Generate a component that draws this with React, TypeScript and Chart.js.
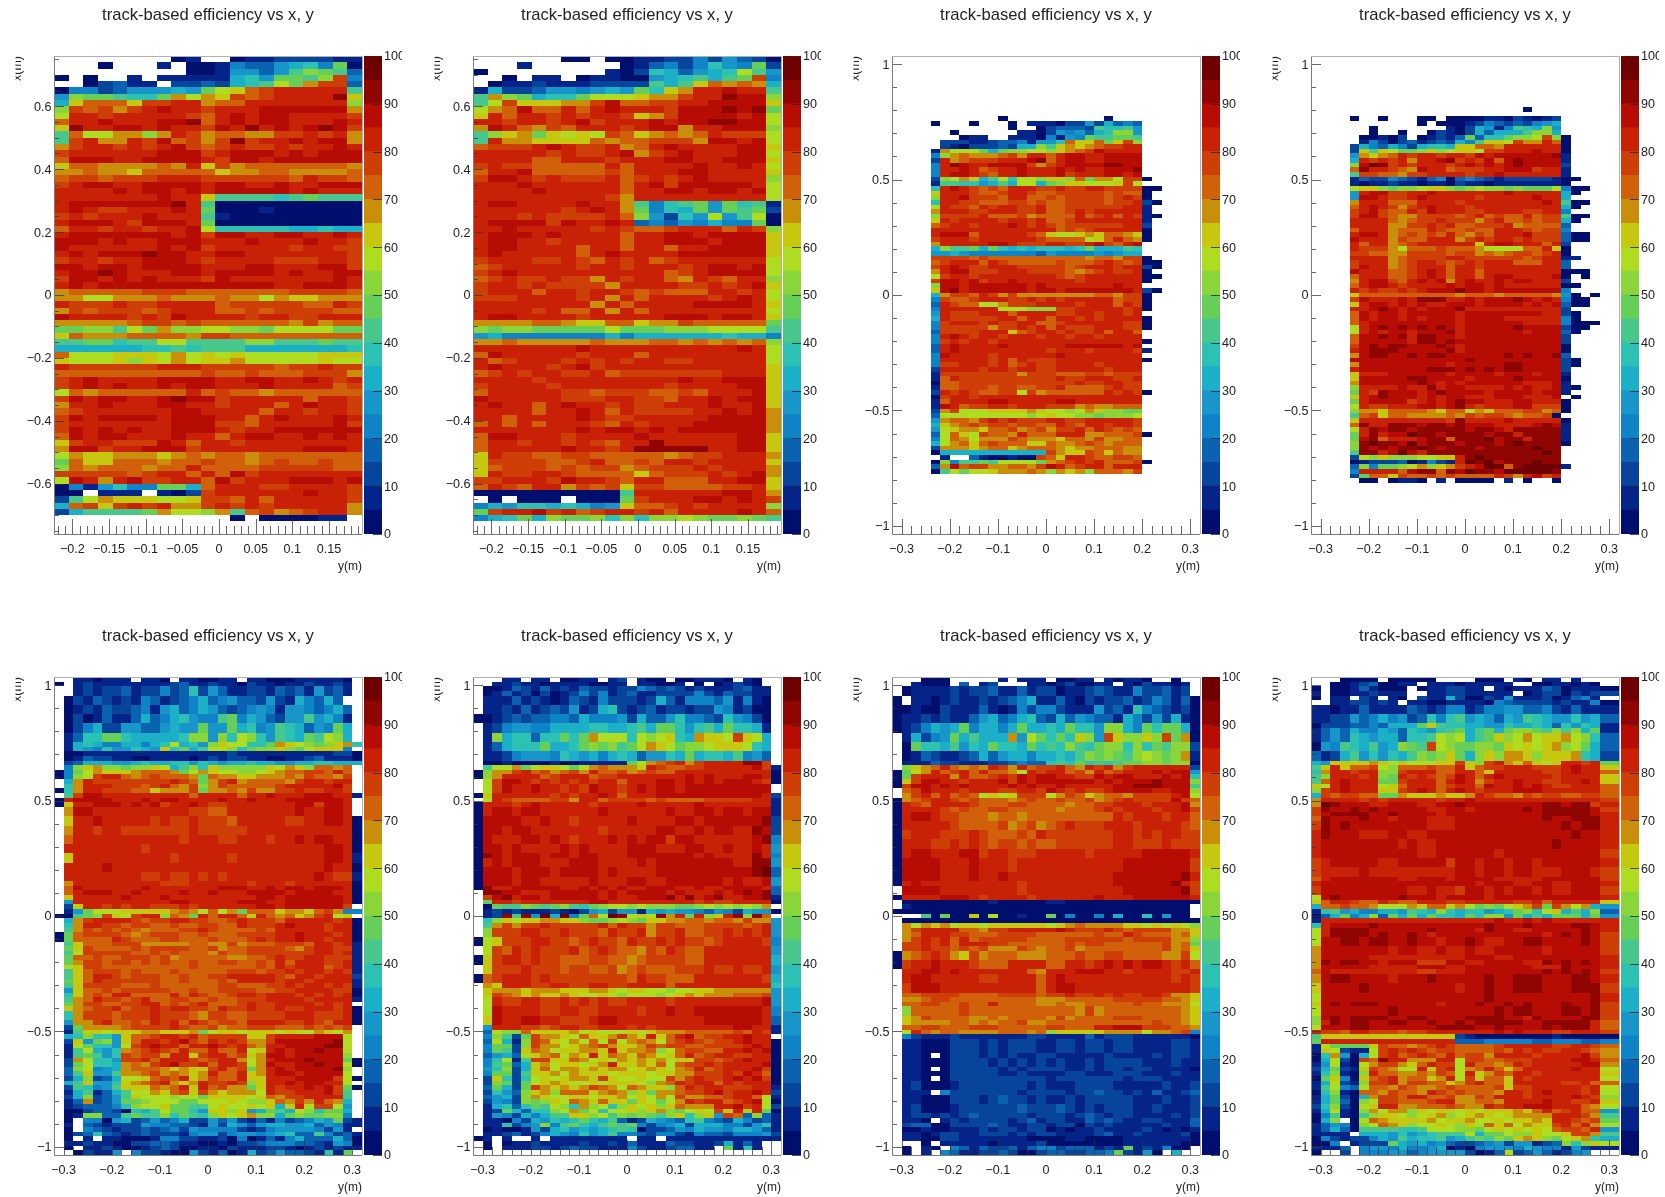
import React, { useEffect, useRef } from "react";
import { Chart, registerables } from "chart.js";

Chart.register(...registerables);

const FONT = "'Liberation Sans', Arial, sans-serif";
const TITLE = "track-based efficiency vs x, y";

// palette: one colour per 5% band, from 0-5 up to 95-100
const paletteColours = [
  "#000e6e", "#04248a", "#06459b", "#0b62b0", "#0e84c6", "#1896c9", "#1cb0c8", "#2dc1b3", "#47c78c", "#65cf58",
  "#8ad63a", "#aedc20", "#c6c80f", "#c98f0b", "#d06009", "#cd3f07", "#c92106", "#b70c03", "#8f0502", "#6e0000",
];
const paletteSteps = paletteColours.map(() => 5);
const paletteTicks = [0, 10, 20, 30, 40, 50, 60, 70, 80, 90, 100];

const narrowYTicks = [-0.6, -0.4, -0.2, 0, 0.2, 0.4, 0.6];
const narrowXTicks = [-0.2, -0.15, -0.1, -0.05, 0, 0.05, 0.1, 0.15];
const wideYTicks = [-1, -0.5, 0, 0.5, 1];
const wideXTicks = [-0.3, -0.2, -0.1, 0, 0.1, 0.2, 0.3];

// each string is one row of bins, top row first. a=0-5% b=5-10% ... t=95-100%, "." = empty bin. "n:" repeats a row.
const panel1Rows = [
  "........ab..abbccccbb", "...a...b.aabeddfgheja", ".........aabffdfikjid", "a.a..b.bbbbbghfjjikpe", "..acdbb.ccdcghiljnppd",
  "aeecdfffgfjlmopqqqqqi", "fkjjihhjnlnmpopqqqqsm", "gmooomppqqnooqqqqqqqk", "kpopnpqrqqpqqqrrrrrrn", "lqqpqqqqqpoqrqrrqqqqp",
  "oqqrqqqrrsoqrqrrqqqrq", "msqqrrqrqqprqsqrqrsrp", "iollnnknqpnoonnppqpqn", "ipqnnqpropnpspqqrqrrn", "npqqpqpqrpopqppqpqqrq",
  "pqqqqqqrrrpqrrrqrqrrr", "orrrqqrrrrqprrqrrrrrr", "moonnnnonqmpnooooooon", "nnonnmooooomnnoonnnno", "oppopppqqqppppppoqppo",
  "pqrrqqrrrrqrrqqrqqrrr", "qqqqrqrrqrqrrrrrqrqqq", "qqqqqqqrqqmiiiihijiii", "qrrrrrrrsqiaaaaaaaaaa", "qrqppqqqrqjaaabaaaaaa",
  "pqpqqqrqqqibaaaaaaaaa", "qrrrqprrrqjaaaaaaaaaa", "oqqpqqpqqrlhhhhhgghgg", "qrrrrrrrqrprrqqrrqqrq", "rrrqrqqrrrqqqrqqqrqqp",
  "rqqqqqqrqrpqqqqqpqqpp", "qrqrrrsrrqqrrqqqqqqqp", "pqqpqqrrrqpqqqqpppqqp", "rrqrrqrrrrqqqrrqqqrrp", "qrrsrqqqrrqrrrrqrqqrr",
  "prrqrqrqqqprqqqqqqqrq", "qrqrrrrrrrrrrrrqqrrrq", "nooooopppoooooooppppo",
  "nnllnnnonnnonnlnmmnnn", "qpppqppqqqqopppppooqp", "npopppopqqqoopoppppoo", "rqqqqpqprqqqqpqqppqqq", "nnnnnoppopoooooonpnoo",
  "jjkkiljnkkllkkjlllljj", "monnnoooonppooooooooo", "iijjhiilliiiikkiiijii", "gggggghhihiiigggggggh", "olllmmmlnlmlmlllllmmm",
  "mlllmkmlnlmmnlllllmll", "qppppppqqqpppppoppqpp", "oooooooooopoopooopppn", "pqrqqqqrrrrqqrrqqrqpq", "pqrqrqqrqrrqqqrqqqqop",
  "lonooooooqopoonoooooo", "prqrrqqrsrrpqqqqqoqqp", "nqqrqqqrrqqpqqqoqrqqp", "opqqqqqqrrqqqqoqqpqqp", "prqrrrrqrrrqqoqrqqqrq",
  "pqqqqqqqrrrppoqqqqqrp", "prqrqrqqrrrqpqqrrrrrr", "orqrrqqqrqqoqrrqqrqrq", "mpqqppprqoqqpqqqqqqqq", "nrrpqqrrrpqqqqqqqrrrq",
  "lnmmnnnmnonoonooooooo", "jommooonoopoonopoopoo", "konooonooqoooopppppoo", "pppppopqqoqorpqqqqqqq", "lrqnqrppqqorpqqqrrrqr",
  "aebfheejjgoqqqppqqqqp", "aa.bbb.bacpqqqqqqrqqp", "cilnmmmllmppoqoqqqqqp", "gopmpqpqnnpqpqpqqqqqn", "cgiiiijnllkniopnopqqn",
  "............a.aaaabb.",
];

const panel2Rows = [
  "......aa.aabbccecfdca", "...b......abdecehfejc", "a........bachgdfghlif", "..a.bb.abbaafghigijpe", ".abbcbbbccccigimonong",
  "bgccdffefgfjhmnqqrqqi", "inkjghhjlllmnnpqqsrrk", "ilpmmmnnprooppqqrrrrm", "lnorooqoqrqqqprrrsrsj", "mqoqqpqpqqpmnprrrrqrl",
  "qqpqqpqrpqqqrqrrssrrl", "nrqonpoqqqpqrrnqqrrrk", "ikmnjmlmlpomnonoqpppl", "iqnnmmmmonoopppnrrqrl", "opppqrqppqnoqrqqqqrrm",
  "qqqqqpqppqrnpqrqqqrrl", "qqqqooqqqpqqqrrqqrrrm", "pqppoooooqoqqqqrqqrql", "oqqrooooopoqqqrrqqqqm", "prrqpqpppqopqpqrqqqqk",
  "qqqrqqqqqqoqrprrrrrql", "qqqqrqqqqqoqqrrqrrqrl", "qqqqqqqqqpnqqqqqqqqql", "qrrqqqqrqqniehijfjhib", "qqqqqqpqrqnjehgjfjijc",
  "qqqpqppppqokfchflfila", "qrrrrprqqrqdedfegeeja", "qqrqqqqqpqpoopqqqoqpk", "qrrrqrqqqqoqqrrqrrrrm", "qrrqqpqqqqoqqrrrqrrrm",
  "qrrqqqqoqqoqqoqqrrrrm", "qrqqqqqoqrqqqqrrrrrrm", "pqqqppqpoqpqopqqqqqql", "opqqqqqpqqpqqqpqrrqrl", "pqrqqqqqqqqqqopqrrrrl",
  "opqppqppnqpqqonqpoqqk", "pqqpqppppnqqqqppqpqrm", "pqqqoqqpqqpopoooqqpql", "pppqqqqpqnqoqqqqpqrql", "qqqqqqqqnqoqqqqrrrrqm",
  "qqqqpqooqnqoqqqqqqqql", "qrrqqqqpqqqqqrrrqrrqm", "nnnnoonmmoomnnpoooooj", "kjkkjjjjjljjjkkklllli", "fgeeeeeeegegggggghgge",
  "nnonnnnnonnnoonononok", "qqqqqqqrqqqqqqqqqqrql", "orqqqqqpqqqoqqqqqqqql", "qopqqqpqpqpqqppqqqqql", "qrqqqpqrpqqqqqqqqqqqm",
  "opqpqqppqopppppppqqqm", "qqqqpqqqqqqqqqrqqrrrm", "pqqqqpqqqqqqqpqqqqrrm", "oqqqqqppopppoopoqqqrm", "rqqqqqpppqqppoqqrqrrm",
  "qrqqoqrqqpqppqqqrqqrm", "qqqqoqqrqoqppppqqrqrn", "qqoqqqqrqppqqqqqrrrrn", "oqoqoqqqpoqpqqqrrrrrn", "qqqqqqqrqrrqrqrrrrrrn",
  "orrqqqpqqqqrqqqqqqrrm", "oqqpqqpqpoqqsqqqqqrrm", "oqqqqqrqqpqsssssqqrrm", "mqppooppooooonoppqqqn", "mppppoopqoopoqqpqqqqm",
  "mopppopoppnopppqpqqqn", "mqppqqpoooomopppqpqrn", "ppqqqprqqpoqqoooqqrrm", "oqpoqqnpopmppooooppqm", "aaaaaaaaaaiqqqqqqrrqn",
  ".a.aaa.aaajpqqqrrqrqp", "egfhhghgefmoopqpqqqqk", "jpqqrpqopqqpqoqqqqrqo", "eghjgkjjkhkhkklkjjkji",
];

const panel3Rows = [
  "13:.",
  "...........a..........a", "....a...a...a.bbbaccfcgded", "............a..acdddcihhif", "......a......bbacfefdghkkf", ".......abb..bbbaebfejiijji",
  ".....cccbbcddebffhommojmpk", ".....cbacccdcggkimnmnoppqq", "....bnllljgjkkllkmnoprqqqq", "....eknonnnopnqqoqrrqqrrrr", "....cqnopppqqqrsoqrrqqrrrr",
  "....eqsrqqrrrrpnpqrrrrssrr", "....eqqrqopqqrqqqrqrqqrrrs", "....eqrrqpoqqrqqqrpqqqrrqr", "....cklnmgilhllkmmkojnnlppa", "....biihhfgigllgjkmmlllmpl",
  "....hqrqpopoqqqppqppqqppppaa", "....mqqqpoopqqpoopppppopooa", "....kqqrpppoqqoopoppppopqpa", "....hqqppoooppopooppppoppqca", "....lqppoqpqqppqooppppppqqb",
  "....nqqqppqqqppqoopqpqqqqqb", "....kppppqooopnooooqopqoqpba", "....mqpqqqqpqqpqoopqqqqqqqb", "....opqqpqqqrqpqpoppppppqqc", "....qqqqqqqqqqqqqopopqqqqqa",
  "....qrrroqqqqqpomllmnmoonma", "....pqqqpqqqqqqpoooolmoqona", "....nqqqqqrrqpppqqppqrpoqr", "....gkiijgjhghghhhghjgggih", "....ffgfeeeeeeedfeeeefefgg",
  "....ppppopoooooooooonoonppa", "....opqqqoqpooooopooopqpopaa", "....pqrqppqqqpppppopqqqpqqca", "....nqrrpppqqqpppponopqppqa", "....lpqqpqqqqqqqqpopqqqqqqaa",
  "....prrqrpqqrqqqqqqpqqqqqqa", "....krrqrrrrrrqrqqqqqqqrqq", "....mrsqrrrrrrqrrqrrrrrrrqca",
  "....gnppoqpnpnnnnnnnnoonppa", "....epoopqqqppqpqpqqqqqoppa", "....dqpoollnpppqqqqpqqqoqpa", "....eqqqqqqlllkkkppqqqqqpqa", "....fqpppqqqoqqqqppqqpqqpq",
  "....gqpppppqqoqqoqqpqpqqqqa", "....epqqqpqppqqoopqqqqqqppa", "....epppppnppqpqoqpppqqqppa", "....dppppqqqmopqqpqppqoqqo", "....eqrqpqqpqqqpqqpqqpqqqq",
  "....epqpqqpqqqqqqqqqqqqqqqa", "....dqrqqqqrqqqqqqrrrrrrqr", "....dqrqqqqqqqqqpqqqpqqqqpb", "....erqqqqpqqqqqqrqqqqqqqq", "....eqqqqqpqoqpppqqqqqqqqqa",
  "....eppqqqpqopqppqqqqpqqqq", "....cqqqqpqqpqqppqqqqqpqqq", "....bppppppppnpppoooppoppp", "....boqppppppppppqppqqqppq", "....aooppppppppppppqppqqpp",
  "....boopppoppooppqoooopqpp", "....cqpqpoopplpnooooooqpqpa", "....apqqpqqqqqqqqqqqqqqqqq", "....boqqqqrrqqqqqrrqqqqqqq", "....brqoppqqpqqqpppnonnooo",
  "....cnplllmmmmnmllklnmkkjj", "....dlllllllllklmllkkjkkkl", "....fnoonpqpqpppqqppqqqqqp", "....gmnopoppoppooqpoqqpqqp", "....flmnnmoopnopnppqoqpopo",
  "....dlomlpoonqoooqqqnnooopa", "....elonlnnnponnnmoonpnnoo", "....glnomopooommonnoponooo", "....cnnnmnoomnooonmnnooonn", "....agggggggggggpnmmpomonn",
  ".....b..dbaabaapomqqpooppo", "....akeiijilllljnopqpqooopa", "....dnroppnnoonprqopqqoqqq", "....ailjllmnnnonknmnkooonp",
];

const panel4Rows = [
  "11:.",
  "......................a", ".",
  "....a..a...aa.aaaabbacbabc", "...........a.aaabcedcdcefg", "......a.......bacgfbeihgkf", "......a..a..acbacgdgggikkg",
  ".....aabac.abcbdjdhhjkklpka", ".....becacdbcdcgeimmlpnnqoa", "....cgedgecghhgmmoonqqqqqqa", "....cmimljjkmklmmlppqqqrqqa", "....fnmnoqpqqpqqprqrrrrrrsb",
  "....gqpqpqnqqrspqprorsrrrrb", "....krtspqpqqqpqrqrqrsrrrrc", "....osqqponrqqopppqqrrrpqqb", "....ippoonppqqqqpqqrqqqqqqb", "....bdccedcbdeadedcbcccccbaa",
  "....babbcbbabbacbbabbbbbbba", "....lmmkjkklmmkjklkkjkjjjleaa", "....fqrrppqqrqqqqqqqrqqqqqga", "....frrqppqrqqqqqpqqqqqrqqg", "....nqqqoooqqqqpqqqqqqqqrqiaa",
  "....oqrqpnpqrqqqpqqqqqqqqqga", "....pqrpooqprqqqppqqqqppqqe", "....prrponnppppopqopooqoppiaa", "....qqqqonoppqpppnpqoopoppga", "....qqqqnnppqpqoopppqnooood",
  "....oqqqnoooqpoopooqqqpoppe", "....qrrqnopopoqonpoqqqrpppdaa", "....rqqqnpooqqqnpqpqqpqpppdaa", "....qoqqnopqqqqqqmqrrqqqoqc", "....qpppnlooopooonllllooqma",
  "....ppoonnppppoppnonoppopqa", "....qqqqnoppppqqppppppopqqbb", "....pqqqnopqqpopqpqqqoooqqd", "....prqqnopqqqoqqpqqqqqqqqd", "....rqqqoopqrqoqqoqqqqqqqqaaa",
  "....oqqqoopqrqoqqoqrrqqqqra.a", "....nqrrpoqrqrnqrqqrqrrqqqc", "....oqrrqpqqqqrqrrqrqqqqqqaa", "....qpqppqpqrrrsrrqrrrrrrre", "....moooooooooonooonooooonfa.a",
  "....prqqqrqsssqqrqrrrsrqrqeaa", "....mqrrqrqrqqrrrqrrrrqrqrdaa", "....qqrsrqrqrrrsqqqqqqqqqqc", "....orqrrqrrrrrqrrrrrrrrqqca", "....orqrrqrqrrrqrrrrqqqqqqea",
  "....oqrrrrrrrrrqrrrrrrqqqqeaaa", "....lqrsrsrsrsrqrrrrrsrrrrcaa", "....lqrqrrqrrrsqrrrrrrqrrrda", "....orrsrsqssrrqrrrrrrrrrrc", "....orrrrrqssrsrrrrrrrrrrrc",
  "....prsrssrrrsrqrrrrrrrrrra", "....qrsssrrrrrsqrrrrrrrrrra", "....nrssrrsrssrrrrrrsrsrrsd", "....rrrrrrrrrrrrsrrrrrrrrrca", "....nrrrrrrrrrqrrrrrssrrrrca",
  "....qrrrrrrrsssrsrsrssrrrrc", "....mqqqrrrrrrqrrrrqrrrqrrb", "....mrrrrrssrrrrqrrrrsrrrra", "....nrrrrrrsrqrqrrrrrrqqqrb", "....kqqqqrqqsqrrqqqqrqrqqrba",
  "....jqpsrrrqrsrrrrqrrrrqrrb", "....mqrsrrrqrqrrqqqrrrqqqr.a", "....jqrrrrpqrqrsrrqqqrrqqqa", "....lqppqqqrrqrsqpqqqrrpppa", "....knnmoooonmoolnmoooppnoa",
  "....iopmoonnnnonpopponoopa", "....mqqqqqqqqqpsqqqqrqqqqqa", "....osqqsssrssrsrrrqqqqrsrb", "....lqsrssrsssssrssrqsssssb", "....jqsqrrtssrssssrssqssssb",
  "....jrsoqqqrssossstrssqsssb", "....kstssrtrsssrsssrstssssa", "....ksrsrsstsrsssrssssstss", "....issqrtrqssssssssssssts", "....clkmkkkllmmqstssssssss",
  "....abcccdabecbqtstrssstss", "....dkejjklnkmnpqrttosttttb", "....eqqqqorssosrtssrttttts", "....cjoompoopopooooqpnqrpq", ".....aa.abba.b.aaaa.b.a..a",
];

const panel5Rows = [
  "..bbabbb .bba.bba abb.bbaa abbbbba.", "a.bcbbbb bbbbcdbb cbbacbba bbcbbcb.", "2:..bcbccd bccecdhc fdbbccbd cdbfcdb.",
  "2:.acbdcbc bedbcdeg defddcfc bgedgd..", "2:.abcbdcc debfgdeg fdcdefeb ffedegd.", "2:.acabdbb dgdeghfe eijegfdc ffifgeb.",
  "2:.acegccf fddfgffj ffjghefi hgdfejg.", "2:.bdhhjjh ggggghkk fkhlkhfi hgjilkg.", ".bghgeeg geghlghf kmllhhjn mlkjkmnh", ".bgfehff hgfmhjgi llkhjkkm kjlmmme.",
  ".aabbbbb bbbbbbbb bbcbbbbb bbbbbcca", ".abdccbb aabbbbab cbccbbaa bbcdbbba", ".cdgggff ghgghhfh gfgghggf fgghhggg", ".ekmnkkj kkmlgikh mkkkkkml nmkoono.",
  "aejlnmmm nooonjln mllkklmn ooppoqo.", "aeklpqqo nopooonj onnmmnnn onpoonp.", ".gnqpppp ppppqpoj npqnoooo npqqpqq.", ".hnqqqpp popqonpk npooooop qqqqqrp.",
  "ahnqqppp oomnnnpj nnonpnnp pqppqqp.", ".iprrqqq qqqqqqoq qqqoqqrq qqrrrqqb", "aqrrrrqq qrqrrqqq qrqqrqqq rrrrrrq.", "amqqrrrq rqrpqqrq ppqqqqqq qrrprrq.",
  "2:.nrrqqqq qqqqqqpp ooqqqqqq qrqqrrq.", "2:.mqqrqqq qqpqppqp ppoqqqqq ppqqrrqa", "2:.nqqpqqp ppppppqp ppppqqqq qqqqqqqa", "2:.oqqqqqq qqqqqpqq qppqqqpq qrqrrqqa",
  "2:.qqqqqqq qpqqqqqq qqqqqqqq qqqqrrqa", "2:.mqqqqqq qqqqpqqq qqpqqqqq qqqqrrqb", "2:.qqqqrqq qqqqqqqq qqqqqqqq qqqqrqqa", "2:.qqqqqqq qppqppqp qpqqqqqq qqqrqppb",
  ".nqqqqqq qqqpppqq qqqqpqqq pqqqqqqa", ".orqqqqq qrqqqqqq qrrrqqrq rrqrrrqa", ".oqrrrqq rqqqqrqq rqqqrrrr qrrrrqqa", ".mqqqqqr qqqrqqqq qqqqqrrq rrrrrrqa", ".fqqqqqq qqqqrrqq qqqrrrqq rrrrrrqa",
  ".cmqqpqp qqpppqpq qqqqqrrq rrrrrrp.", ".bfjlllm mmmmnonl olnjooom nnmopnee", "aaijkpml pqqkonjq oqqomqon omnpqlm.", ".gnpqqqq poppqqpp oopqpppo qqqqqpqa",
  ".hnqqppo ppoopoop pooqpppq rqqqpqqa", ".inpopop onoooppq poooopoq qqqqpqqa", "ajoppppo nopppoop oooppppq qrqqqpqa", "ajooooqp oooppooo pooopqpq qrqqpqqa",
  ".imooopp pnnnnnoo nnpnooop ppoqqpqb", ".jmpoooo poppppoo pnoopppp onpqqppb", ".ilppppp oopopooo npoopppp pppqqpqb", ".joopoop ppopnooo oonnoopq ppqqpppb",
  ".jnppopp opopoopo oppoopoq oqqqppqb", ".lmppooo oooooopo ooooopoq pqqqopqb", ".imopppo pooopooo oopppopp qpqqpqpb", ".imoqqpo pppoopoo ppqqqqqp oqqpqqqc",
  ".jmoqppp pppoopoo opoqqqqp qqpqqqqb", ".imppppo oopooooo oppooopp qpqqpqpb", ".fmoopop ppppoopo oppppoop pqqqqppa", ".hmopoqq ooooqoqp oopqqpqq qpqpqpqa",
  ".inoqppo pqooppoo poopppqq qqpqqqqb", ".jnppoop pqqopopq ooopqppq qqqpqpq.", ".mnoppqo ppqpqqpp oqppqppq ppqqqpqa", "2:.hnpppop ppqpppon ppoopppp qqqpppqa",
  ".fnnpqoo poqpqoqp oppoqqqq ppqpoqqa", ".cjnnnno ppppqpoo pnoopppo oopopop.", ".bimmlmm mnnmmmnj lmmlmmml mllnmln.", ".ghkhhfm oopqqpqo ppppmmpq qqqrrrl.",
  ".cmfjkfm oqqpqrpo qpqpnnpr rrrrrsl.", ".bljhhfl pqrqqoqq rqpqonqq rrrrssl.", ".bilgfhn opqpoqoo qooqlmqr qrrsrrl.", ".bijifhp oppnqqmp qqopmnrr qrrrrrk.",
  ".cnlhhfp pqoqqqpo pqqnlnqr rrsrrrja", ".cjlhhgn onpqrppq oqqplnrq qrrsrrla", ".dklefgn ooonmnmm pqopjnqr qrrrrsk.", ".dimffin nopnonmn qooqmnqr rqrrrrl.",
  ".cgkcdgl lmopoqmn pooqmmqq qrrrrpla", ".gimffhm nopqnmnq ppqpkmqq rqrrqql.", ".cihefim mmonoqmq opnnjmqp qqrqrpja", ".bgibdgi llnmopmp nmnnnlqp pqqqrpi.",
  ".cgkcdfi mlllkllj mmmmlmon ppqqqqi.", ".bdncdfj jkllljjl llmlkkmo npnqong.", ".bcdddeh kllmjjii lmllmlmg mqlpplf.", ".aacddca hgiljjhf mmkmfgji glkhjjg.",
  ".abkkddi jiikhjih kmlmnkkg jkjjkke.", ".a.eeafg cdfdegcc fdfcbdbe cdegfjcb", ".b.dcbcc cfeeddcb fcgfdfgg ffgdfebb", ".a.edcbc cdcdecfe eeecbcef fffecfb.",
  ".acdhdcb cdcccbef fceffefg hddiecdb", ".a.b.bba aabeeccb bcaeabdb egdddgda", ".bbcbbaa ccddcbba abaccdee eddcbfea", ".a.bbcba abcdcaab bacbbbcc babcbcbb", "..acbbf. eccbaafc bdabgcdf ddcbhbj.",
];

const panel6Rows = [
  "...bb.bb .aabb.bc .baa.aab bba.ba..", "..bbcbba bbbbaabb .bbaab.a .abcba..", ".aabdcbd bcbdccbc cedcdcbc bbbcdbb.", ".abdbcac abcecebc dbbcccce cbdccbb.",
  "2:.bbbdbcb abdcbecc cbcgdbee edfbeba.", "2:.bbcbdbc dcfbcghc bcdbccbc cfebcaa.", "2:aabcdcdd eedgeeef cgddfhee dchfeca.", "2:.bceffee gggghhgg higjjhfh igjhhgb.",
  "2:.bkghhdh hjhjnlll hlklmhgn mmlpmlg.", "2:.bdghhhj gghjkjki jlnmljkk lmmmlhg.", "2:.bbcefff ehgfgegh gdffhgjg hhgiefd.", ".aabaaaa baabbbbb jlnopqnp qqqqssp.",
  ".illnjlm mljlnonn nmqpoopp qqqqqrpb", "aknnpqop nopnqoop nopooqqq qqqqqqqa", "aknqqqqo pqqqoppq qqqqqqrq rqqqrrqa", ".lprrqpq pqpqpqqo qqqrrqrq rqrrrqpa",
  "2:.lprqqrq qpqprqqp qrqrrqrr rrrrrrr.", "amqqqqqq pqpqqrqo qqqrrrrr rrrrrrqc", ".lqpoooo ppnqqopp ppopoooo pppppqqb", "aqqqpqrq qqqqpqqq qrqqqqqr qqqqqqqb",
  "2:aqrrqrrq qqqqqrqq qqqqrqqr rqrrqrrb", "2:arrrrqqr qqpqqqqq rqqqqrrq rrrrrrsc", "2:arrqrrqq qqqqqpqq qqqrrqqr qrrqqsrc", "2:arqqqrrq rqpqqqrq rqrrprrq qqqqqrse",
  "2:arrqrqqq qrqrqqqq rrrqqqrr qqrqqrqf", "asrqrrrq rrqrrqqq rrrrrrrq rqqqqsqe", "2:aqrqrrrq qqrrrqqq qrqrrrrr rrrqqssf", "2:arrrqrrr qrrrrqrq qqqrrrrr rrrrrstd",
  "2:arrrqrrq qqqqrqqq rrqqrrrr rrqrqqrf", "asqqrrrr rqqrqrqr qqrrrqqr qqrrrrqd", ".ssrrqqq rrrrrqrq rrrrqrqq qrqrsrsd", ".prsqrrq rrrrrqrq qrrrsqsq rsqqrrsb",
  ".jqqpqqq qqqqrrqq qqqqqqqp qppqqqqa", ".ajiikji jkihjkll klkkkjjk lklklkn.", ".bcbcbbb cbacfgcf fbgfgffe dfecgffa", ".bcsisft gtejolts lmlsnqjq kmqskso.",
  ".hkmlmmn nmmkjjkl kjmmnnoo noonpnnf", ".inpnppq pppppqoq ppnppooo ppppopqf", "2:.kpppqqp pqpppoqp pqnppqoo ppqpqpqf", "2:almpppqq ppopqppo qppqpqpp opqqqqpe",
  "2:.lpoqpqp ppqopqpo onpoqpoo qqqqqqqf", "2:ampqqpqp poooppoo noppppoo qqqqqqqg", "2:.mpppqpp poppoopn opoooppp qppqppqf", "2:aopqqqpq pppppppp oqppoooq qqqqqqpg",
  ".nmqqqpp qqppqqpp qqqqoqqq qqqqqqqh", ".mnnnmnn nmmmnnml mmllkllm mnnnnnnf", ".mponmnm mnmllmlk lllklmnm nnnooopf", "2:.lqppqqp pqpqpqpp qqqqpqqq qqqqqqrf",
  "2:.lrqqqqp pqqppqqq qpqqrqqr rrrrrrqe", "2:.mrqqrrq qpppqrrq qqqqqqqq rrrrrrqd", ".fqqqppo pqqppqqq pqpqqqqq qqqrrqqb", ".dlkkomm mmnlmlll mlmnnnoo ooopoqpb",
  ".ekicjpn nmlommnp nmqmoqro ppqqrqq.", ".dlgbkpo mlnlolpl nonlopqp oppqrqqa", ".ejjckpn nlmnopnm mnpoppoo ppppqrqa", ".ejicmon lmmnnmqm nnoklopp ooqqrqra", ".dfgdlmn olnmqmon monlmoqo pqqppqqa",
  ".ehlbipp mmonlmln mnmnlmmp popqrqqa", ".eijdgmn lmmlmnqm mnmolopp qpqqqqra", ".fhkcgmo lnnmnmnn lmnmlnoq opqqqrpa", ".ejjcimm nlnmmmlm mmlmmnnp ppqprqoa", ".cmhchlm lmnnmpml lmllpnpq ppqrqrpa",
  ".ckjcjlm nmllmlmm mlknoqpq qoqpqqqa", ".djgcjpn mnmnponl onmmkoqp qqpppqqb", ".chfdkmn kooomnon kmjnnopp qrpqqrqc", ".dfgcknm llmmlmmn lmlnlpnn oopqqolb", ".cfeckjk mlonmomm jmljlnqp qqopqrla",
  ".bghdhji lkhnklhk mlmkmonn nqqrpqlc", ".bcjgdhh klnjlhll mkmnkjlm lpmqmqja", ".bfecgeg iimmklik jkjikmhk mfpodkdb", ".bbaecgf hghjhgid bcgfedhi edcgecdb", ".bbhcefk eijhgiji jecefgcg ggeecfhb",
  ".abaabfc ghfgfghi haccdfeg ffeggfdb", ".bbcdbce gfehfgie edceecbe ddceeefc", "ab.b..b. bbbbbbbb .bb.bbbb bbbbbbbb", ".a.abbcb bbbcbbcb dbbbdccb bcgbdb..", ".a.bbbcc bcdccbbb ecbbcddb b.jbhb..",
];

const panel7Rows = [
  "...aaa.. ...b.bbb .aabb.ba bba..a..", "..baaa.d .bc...bb abcaabb. bacbbab.", "2:.abbbbcb ccdbbdbc cabbcdcb beccdbc.", "2:a.bbabcb bcbcdegb bdbacbcc dbcedbda",
  "2:aabaacbb bdbabece ecbbbfcd bhedcbca", "2:abbcbcbb dfgdeghd cgdfeddb gecfcgba", "2:abcegfgj eggegjgg hgjhhfkk gejhjjga", "2:.bgcefjg igggnflj hjhmkfpm kkmkpjna",
  "2:.ajhhgif hgjhhgjh ihkihjkk hkhjikkc", "2:.abdcbbc dgdfggeg ghgikjkj iklkjknb", ".bbbdccb bbccdedd hihjhihi jjkkjkka", ".kmnoqon onqpnqop pqonqpqn pqqqqqqc",
  "ajlnqopq oqoonlqp qqopnqop qqqrqrrf", "ajpqqqnq oopqprqr rqqpprqr rqqqrqrh", "amprrqqp qqqrprqr rrrrrqrq rrrsrrrk", "aprrqrqr qqqqrqrq qrqqqqqr rsssrrri", ".oprqqqp qqqppqqp rqpqppqr rrrqqrrk",
  ".npqoqop olmlmppp lnpomnoo nppppqrl", "anopqqpo pooonopo opoopnop qpppprpo", "aqpoqqqq poooppoo oonooppq qqpqqqrn", "aqqqqpop ooppoooo onooopqp qqqpqqrp", "2:aqrrqppo oonoonoo oooooooq pqqqpqqo",
  "2:aqqqqqpo ooopnopn opqpppqq qpqqqqpo", "2:apqqqppp qpooopoq pppppppq qpqpqqpp", "2:aqqqppqp qpoppopo oppppppq qpppqppp", "2:aqrrqqqr rpqqpppq qqqqpqqq qqrrrrrq", "3:arrrrqqq rqqqpqqq qqqqqqqq rrrrrrrp",
  "2:arrrrqqq rqqrqqqq qqqqqqqr rrrrrrsq", "aqrqqqqq qqqqqpqq qqqqqqqr rrrrrsqp", "2:.rrrrqqq qqqqqpqq qqqqqqqq rrrrrrsp", "aqqqqrrr qpqqqqpq qqqqqrqq qrrrrrrq", ".aaaaaaa aabaaaaa bbaaaaaa aaaaaaaa",
  ".baaaaaa aaaaaaaa aaaaaaaa aaaaaaa.", "aaaaaaaa aaaaaaaa aaaaaaaa aaaaaaa.", "...iajaa malaabaa jaeaaeag aahafaa.", ".aaaaaaa aaaaaaaa aaaaaaaa aaaaaaaa",
  ".nlnmnlm mlmmmmmm lmnonnnn mmlmlmlk", ".npqqqqo onppqqqq qrqpppqp oppppnnm", ".noqqqpp oooppppo ooooopoo qpooonom", ".npqpqoq opppppoo oopppppp oppppnnk", ".ppqpqoq qqppoooo oopoppoo oooopnoj", ".ppqppop opnnnpon oopnoooo oooopnom",
  "2:anopqpnm pnooonnn ooopoopp oooonnpl", "2:apqqrqqq poooqqqq ooqqpqrq rqrrqpqo", ".qqrrqrq qqqqqqon qqqrrrqq pqqqqppq", "2:.qrrqqqq qppqqqqo qrqqqqqq qqqqqpqp", "2:.prrrqqq qqqqqqqo qrrqqqqq qqqqqqqp",
  ".ooppppo oooppppo ppqppqpq ppqqpnnm", ".nnoppoo ooooooon nnooooop ppppoonm", ".ooppoop ooqoooon nonnoooo opoonnnl", "2:.kooooop oooooooo ooonpnoo oooooonm", ".mnpoooo nnonoooo npnoooop ppoooonm",
  ".mnnnnoo nonoopnn oooooooo ooopoonm", ".ooppooo pppooooo ppoooqqr rrpppoon", ".lqonoon nnnooono kmmmmmnn nnlnnope", ".ecbbbcb bbbbbbcc bbbbdbcc cbbbbbba",
  "3:.bbaaacc cbcbcccb bccbccbc cbbbbccb", ".bba.acc cbcbcbbc cbbbbbcb bbbcbccb", "2:.bbaaacc ccbcbcbc bcbbcbcc ccbbbcbb", ".bba.acc cccbcbcc ccbbcbcc bccbbbba", ".bbaaacc cccbbcbb bbccbbbc ccbbbcbb",
  ".bba.acc cccccccc bccccccc bcccbbbb", "2:.bcaaabc ccccccbc bbbccccb bbbbcbbc", ".bbb.ecc cccccbcc ccbccdcc bcbdbbcd", "2:.bbaaacc cbcdccbc bbcbcccc cbbbcbbc", "2:.bcaaabc cccccdcc cdcbcbcc cbbcbbbc",
  ".bccbcbc dcccccbc ccbcdcbc cbbbbcbc", ".bba.bcb ccccbcdb ccbbdcdc bbccbbbd", ".cddaacc ccdcbbcc bccacbcb bbbbcbbd", ".aabaabb bcbccbcc ababbcbb bbcbabab", ".bbabccb bcccbcbc cbbbbcdb bcbbbbca",
  ".bbaaccb bbbbbbaa aabbaaaa bbbbbbba", "...a.bbb bbabbbbc aaaaaaaa bbbbbbaa", ".a.ba.ed bdccdbde ecdddbcb jbcbeaa.", ".a.b.edb bccdcaac ddccddej cbfa.g..",
];

const panel8Rows = [
  "....aaaa .aaaaa.. ..aaa.ba .bb.b...", "...aabcd aabb.bbb abbbbb.. aabbaba.", ".a.aabdb aaa.abbc cbb.babb bdcabbba", ".b.aabbc bbb..bbc cbbbbb.a bccacbcc", ".a.bb.cb .ba.cbbg caacbfbb bcabdeb.",
  "...bbccb cb.bbaab bbbaedcc ccbcbbea", "2:.bbabbdb bbbdcbce ebceeffd decbdbbb", "2:.bbccfde gefcdheh ifgfdgfi hgffhfgd", ".acccdde dgggjmih hggffhgg hgdhfhgb", ".bdfdgee gfdhgfhi jgijgjkk jikikgjb",
  "2:.bdfdhgf ggdhhilk lgijmkln lmmnlkhd", "2:.afeihgi fgkjiplk jjkkjmlm lmnkljgd", "2:.dbcgifh fhgikjkm jgkmknnm kmmmnhgc", ".gfmmmmn mlmlllmm pmkpqnmo mlmqqpqj", ".imqmoop lkooopoo qmoppqqq pppqrqqm",
  ".hnqqpqq kkpqqqoo qqomqqqq qppqrqqo", ".ikqqqpq kjqpqpop rqoqrqqq qqpqqqqm", ".ioqrqqq jjpqqqoq rqnpqqrq qppqqrqm", ".mlqrqqq lmoqqqop qqorqqrq rqppqqqo", ".kpqrqqq mmpqrqoq rqpqqqrr rqqqqqqo",
  ".gpoppoo jjnmmmnm mnqpoonp oppooppo", ".nqqqqpq pqqqqqpq qrqqqqqq qqqqqqqp", ".ntsrrrq qrrrqqrr srrrrrrr rssrsspq", ".psrrsrs rrrrrqqr rqrrrrrs rsssssrp", ".prssssr rsrrrrqr rrrrrrrr rsssssrq",
  ".osrrrsr rqrrrqqq rrrrrrrr rsrrsssq", "2:.psrsrrr rrrrrqqq rrrrrrrr rrrsrssq", "2:.qsrrrqq qrrqqrrr rrrrrrrr rrrrsrrq", "2:.qrrrrrr rrqrqqrr rrrrrrrr rrsrrrrq", "2:.qrrrrrr rrrrqqrr rrrrqrrr rrrrrrrp",
  "2:.pqrrrrr qqrrrrrp rrqrrqrr qrrrrrrq", "2:.pqqqqrq qqqqqqqq rrqrrqrr qqqrrrqp", ".oqrrrrr rrqqrrrq rrrrqqqq qrrrrrrp", ".qrrrrrr rrrrrrrr rrqrrrqq rrqqrrrq", "2:.prrrrrr rrrqqrqq prrqrqrr qrqqrrrp",
  ".lrsrrrr rrsrrrqr rrrqrrrr rrrrrrrq", ".moqqpoo qpooqqqp pqqqqqpp qoqqqqqm", ".goopoon lllnmoom nljkjlmn pjpnlngf", "abhifgee ggfihgkh ghhfghjk hlmgigkd", ".adgjegk djgjgjhh gjhkkfjg igjjjgjf",
  ".bqqqqqq qqqqqqqq qqqqrqqr qrqqqqqq", ".hqrrrrs rrrrrrrr rrrsrrrs rrrrssrq", ".lqssssr rrrrrsrr rrqsrrqq rrrrrsrq", ".lqssssr srrsrqrr rrrrrrrr rqrsrsrp", "2:.lrrssrs srrsrrqr rsrqqrrs srrrrsrp",
  "2:.nrrrrrr rqrrqqrq qrqqrrrr rqrrrrrp", ".nrrrrrq qqqqqqqq qrrrqqrr rrrrrrrq", ".nsrssrr qrrrpppr rqqrrrrq qsrsrsrq", ".nrrrrrq qqqqrrrq qrrrrrrr qqqsrrrq", ".orqqqqq qqqqppqq qrrrrrrr rsrsrsrp",
  "2:.nrssrrr rqrrrsrr rrrsrrss srrrssrq", "2:.mrrrrsr rrrrrrrr qrrsrrss srrrsssp", "2:.lrrrrrr rrrrrrrr rrrsrrrr rrrrrrsq", ".mrsrsss rrrrrrqr rrsrrsrs rrrsrrsp", "2:.lrrrrrr rsrrrrrr rrrrsrss rrrssrsp",
  ".krsrsss srrssrrr rssssrrq srrrrssp", ".kqsrssr rssrrsrr srsssssr rsssssqo", ".lrrrssr rrrrrrss ssrrsrrr rsrsssqo", ".qppoqqp ppoppqqq qqqqrqrq qqppqqqp", ".immmmmm mmmmmmmm cbaaaaaa aabaaaaa",
  ".jqqqqqq qqqqqqqq dddeeeee ddeeedde", ".bljjjjm poonopqp oooopqqq qqppqqpo", ".bmlcbbl pqpqpopp oooopoqp qppqqpon", ".ahnfagl pqopqpoq oppnqqqq pqqqqrpn", ".aglcapo sqqnnnqq lppooppp qqqqrrqo",
  ".bflbaln ppnmoqpp lqoonoqp qqqqqrrn", ".cgjcbmp onllqmpq lnoqomoq qqqqrqql", ".bhkbakq oonnonpo lqmnpoqq pqqqqqqm", ".ajmeamo pqnoomnq lpmoomqp qqqqqqql", ".bglcbkp pqnppoom npqoomqq qqqppqoo",
  ".biledlo onponnop oooopmpp qqqqqpql", ".ahkbaoo npoonqpo pooonqqp qrqqqpql", ".bgjcagn ppoqqoop nnpoqqqp qqqqrqpk", ".bgjdakl ppooopqq nnoonqqq qrqqppqm", ".chkcalm qqnnooop onnqpqqr rrqqqonl",
  ".bglbakn lnnkmlmm lmlmmmnm oqopqoof", ".aeibaik mmlklmnk lmnmlmnn nnqqqpni", ".agk.alo nmmmmnlm mnllmlmm nmqqpopj", ".bdfeakl onmkllml kmlomoln mmpqoqnl", ".bdgdaii iihhilll kkjlmlml mloppoqf",
  ".bbbb.gg gfhfghii ilgjjlkk mllmppni", ".aecbcce gfighhif gijikjmn mkjlmnhg", ".aae.bcc cjgfgefd ccdefcff bcdkhkml", ".bbbd.ef fegeefga baefffeg feebfcbb", ".a..c.ee effdefff fcabdlcd fdbcef..",
];

const LEVELS = "abcdefghijklmnopqrst";

type Layout = {
  rows: string[]; columns: number; rowTotal: number; shift: number;
  xMin: number; xMax: number; yMax: number;
  xTicks: number[]; yTicks: number[]; xMinorStep: number; yMinorStep: number;
};

const narrow = { columns: 21, rowTotal: 76, shift: 0, xMin: -0.225, xMax: 0.195, yMax: 0.76, xTicks: narrowXTicks, yTicks: narrowYTicks, xMinorStep: 0.01, yMinorStep: 0.05 };
const wide = { columns: 32, rowTotal: 103, shift: 0, xMin: -0.32, xMax: 0.32, yMax: 1.035, xTicks: wideXTicks, yTicks: wideYTicks, xMinorStep: 0.02, yMinorStep: 0.1 };

const panels: Layout[] = [
  { ...narrow, rows: panel1Rows },
  { ...narrow, rows: panel2Rows },
  { ...wide, rows: panel3Rows },
  { ...wide, rows: panel4Rows },
  { ...wide, rows: panel5Rows },
  { ...wide, rows: panel6Rows },
  { ...wide, rows: panel7Rows },
  { ...wide, rows: panel8Rows, shift: 1 },
];

const columnLefts = [0, 419.3, 838, 1256.7];
const rowTops = [0, 621];

function cellsOf(p: Layout) {
  const expanded: string[] = [];
  for (const raw of p.rows) {
    const m = raw.match(/^(\d+):(.*)$/);
    const times = m ? Number(m[1]) : 1;
    let text = (m ? m[2] : raw).replace(/ /g, "");
    if (p.shift) text = text.slice(p.shift) + text.slice(-p.shift);
    for (let i = 0; i < times; i++) expanded.push(text);
  }
  const binX = (p.xMax - p.xMin) / p.columns;
  const binY = (2 * p.yMax) / p.rowTotal;
  const cells: { x: number; y: number; v: number }[] = [];
  expanded.slice(0, p.rowTotal).forEach((row, r) => {
    for (let c = 0; c < p.columns && c < row.length; c++) {
      const level = LEVELS.indexOf(row[c]);
      if (level < 0) continue;
      cells.push({ x: p.xMin + (c + 0.5) * binX, y: p.yMax - (r + 0.5) * binY, v: level * 5 + 2.5 });
    }
  });
  return { cells, binX, binY };
}

const fmt = (v: number) => {
  const s = String(Math.abs(Math.round(v * 100) / 100));
  return v < -1e-9 ? "\u2212" + s : s;
};

function Panel({ p, left, top }: { p: Layout; left: number; top: number }) {
  const mainRef = useRef<HTMLCanvasElement>(null);
  const barRef = useRef<HTMLCanvasElement>(null);
  useEffect(() => {
    const { cells, binX, binY } = cellsOf(p);
    const heatmap = {
      id: "heatmap",
      beforeDatasetsDraw(chart: any) {
        const { ctx, scales } = chart;
        for (const d of cells) {
          const x0 = Math.round(scales.x.getPixelForValue(d.x - binX / 2));
          const x1 = Math.round(scales.x.getPixelForValue(d.x + binX / 2));
          const y0 = Math.round(scales.y.getPixelForValue(d.y + binY / 2));
          const y1 = Math.round(scales.y.getPixelForValue(d.y - binY / 2));
          ctx.fillStyle = paletteColours[Math.min(19, Math.floor(d.v / 5))];
          ctx.fillRect(x0, y0, x1 - x0, y1 - y0);
        }
      },
      afterDraw(chart: any) {
        const { ctx, scales, chartArea: a } = chart;
        ctx.save();
        ctx.lineWidth = 1;
        ctx.strokeStyle = "rgba(55,55,55,0.75)";
        ctx.beginPath();
        const near = (v: number, list: number[]) => list.some((t) => Math.abs(t - v) < 1e-6);
        for (let n = Math.ceil(-p.yMax / p.yMinorStep); n * p.yMinorStep <= p.yMax; n++) {
          const v = n * p.yMinorStep;
          const y = Math.round(scales.y.getPixelForValue(v)) + 0.5;
          ctx.moveTo(a.left, y);
          ctx.lineTo(a.left + (near(v, p.yTicks) ? 10 : 5), y);
        }
        for (let n = Math.ceil(p.xMin / p.xMinorStep); n * p.xMinorStep <= p.xMax; n++) {
          const v = n * p.xMinorStep;
          const x = Math.round(scales.x.getPixelForValue(v)) + 0.5;
          ctx.moveTo(x, a.bottom);
          ctx.lineTo(x, a.bottom - (near(v, p.xTicks) ? 15 : 8));
        }
        ctx.stroke();
        ctx.strokeStyle = "#7c7c7c";
        ctx.beginPath();
        ctx.moveTo(a.left + 0.5, a.top);
        ctx.lineTo(a.left + 0.5, a.bottom + 0.5);
        ctx.lineTo(a.right, a.bottom + 0.5);
        ctx.stroke();
        ctx.strokeStyle = "#b0b0b0";
        ctx.beginPath();
        ctx.moveTo(a.left, a.top + 0.5);
        ctx.lineTo(a.right + 0.5, a.top + 0.5);
        ctx.lineTo(a.right + 0.5, a.bottom);
        ctx.stroke();
        ctx.beginPath();
        ctx.rect(15.6, a.top - 2, 20, 40);
        ctx.clip();
        ctx.translate(21, a.top);
        ctx.rotate(-Math.PI / 2);
        ctx.font = `12.5px ${FONT}`;
        ctx.fillStyle = "#222";
        ctx.textAlign = "right";
        ctx.fillText("x(m)", 0, 0);
        ctx.restore();
      },
    };
    const main = new Chart(mainRef.current!, {
      type: "scatter",
      data: { datasets: [{ data: cells, pointRadius: 0, parsing: false, normalized: true } as any] },
      plugins: [heatmap],
      options: {
        animation: false,
        responsive: false,
        events: [],
        layout: { padding: 0 },
        plugins: {
          legend: { display: false },
          tooltip: { enabled: false },
          title: {
            display: true,
            text: TITLE,
            color: "#222",
            font: { family: FONT, size: 16.6, weight: "normal", lineHeight: 1.2 },
            padding: { top: 5, bottom: 56 - 5 - 19.92 },
          },
        },
        scales: {
          x: {
            type: "linear",
            min: p.xMin,
            max: p.xMax,
            grid: { display: false, drawTicks: false },
            border: { display: false },
            afterFit: (s: any) => { s.height = 42; },
            afterBuildTicks: (s: any) => { s.ticks = p.xTicks.map((value) => ({ value })); },
            ticks: { autoSkip: false, maxRotation: 0, padding: 8, color: "#222", font: { family: FONT, size: 12.6 }, callback: (v: any) => fmt(Number(v)) },
            title: { display: true, text: "y(m)", align: "end", color: "#222", font: { family: FONT, size: 12 }, padding: { top: 0, bottom: 2 } },
          },
          y: {
            type: "linear",
            min: -p.yMax,
            max: p.yMax,
            grid: { display: false, drawTicks: false },
            border: { display: false },
            afterFit: (s: any) => { s.width = 54; },
            afterBuildTicks: (s: any) => { s.ticks = p.yTicks.map((value) => ({ value })); },
            ticks: { autoSkip: false, padding: 2.5, labelOffset: 1, color: "#222", font: { family: FONT, size: 12.6 }, callback: (v: any) => fmt(Number(v)) },
          },
          spacer: {
            type: "linear",
            axis: "y",
            position: "right",
            display: true,
            grid: { display: false, drawTicks: false },
            border: { display: false },
            ticks: { display: false },
            afterFit: (s: any) => { s.width = 54; },
          },
        },
      } as any,
    });
    const bar = new Chart(barRef.current!, {
      type: "bar",
      data: {
        labels: ["z"],
        datasets: paletteColours.map((c, i) => ({ data: [paletteSteps[i]], backgroundColor: c, barPercentage: 1, categoryPercentage: 1, borderWidth: 0 })),
      },
      plugins: [
        {
          id: "paletteTicks",
          afterDraw(chart: any) {
            const { ctx, scales, chartArea: a } = chart;
            ctx.save();
            ctx.strokeStyle = "rgba(40,40,40,0.8)";
            ctx.beginPath();
            for (const t of paletteTicks) {
              const y = Math.round(scales.y.getPixelForValue(t)) + 0.5;
              ctx.moveTo(a.right - 9, y);
              ctx.lineTo(a.right, y);
            }
            ctx.stroke();
            ctx.restore();
          },
        },
      ],
      options: {
        animation: false,
        responsive: false,
        events: [],
        layout: { padding: { left: 0, right: 0, top: 56, bottom: 42 } },
        plugins: { legend: { display: false }, tooltip: { enabled: false }, title: { display: false } },
        scales: {
          x: { stacked: true, display: false },
          y: {
            stacked: true,
            position: "right",
            min: 0,
            max: 100,
            grid: { display: false, drawTicks: false },
            border: { display: false },
            afterFit: (s: any) => { s.width = 20; },
            afterBuildTicks: (s: any) => { s.ticks = paletteTicks.map((value) => ({ value })); },
            ticks: { padding: 2, labelOffset: 1, color: "#222", autoSkip: false, font: { family: FONT, size: 12.6 }, callback: (v: any) => String(v) },
          },
        },
      } as any,
    });
    return () => {
      main.destroy();
      bar.destroy();
    };
  }, [p]);
  return (
    <>
      <canvas ref={mainRef} width={416} height={576} style={{ position: "absolute", left, top, width: 416, height: 576 }} />
      <canvas ref={barRef} width={38} height={576} style={{ position: "absolute", left: left + 364, top, width: 38, height: 576 }} />
    </>
  );
}

export default function App() {
  return (
    <div style={{ position: "absolute", left: 0, top: 0, width: 1665, height: 1197, overflow: "hidden", background: "#fff" }}>
      {panels.map((p, i) => (
        <Panel key={i} p={p} left={columnLefts[i % 4]} top={rowTops[Math.floor(i / 4)]} />
      ))}
    </div>
  );
}
